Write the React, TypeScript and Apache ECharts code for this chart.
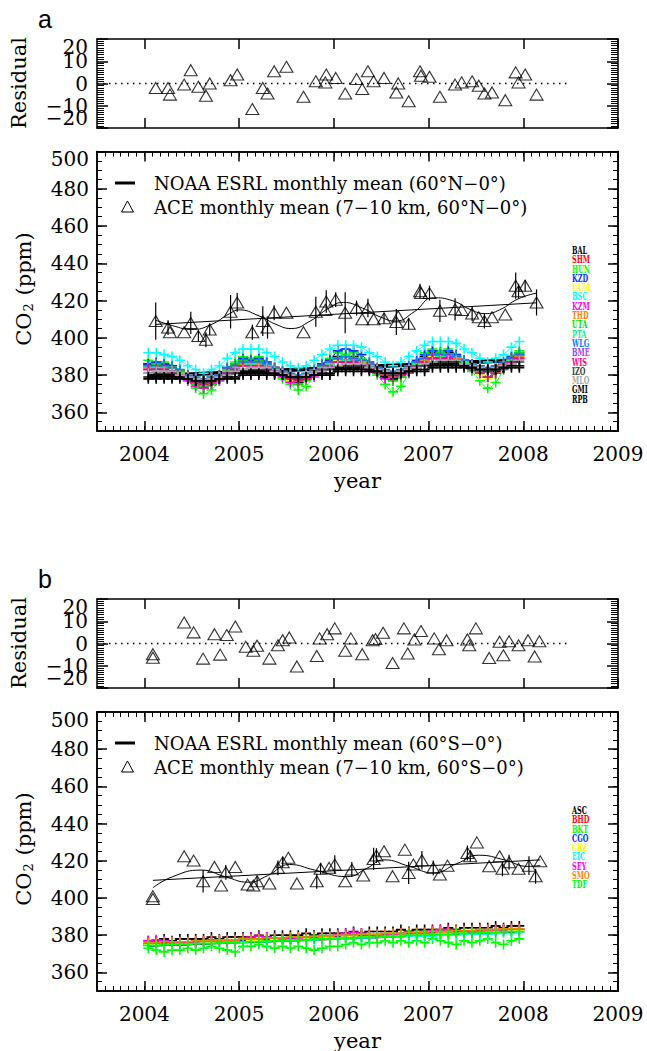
import React, { useEffect, useRef } from 'react';
import * as echarts from 'echarts';

// ---------------- axes / ticks ----------------
const DATA_YEARS = [2004, 2005, 2006, 2007];
const X_MIN = 2003.5;
const X_MAX = 2009;
const X_TICKS = [2004, 2005, 2006, 2007, 2008, 2009];
const Y_MIN = 350;
const Y_MAX = 500;
const Y_TICKS = [360, 380, 400, 420, 440, 460, 480, 500];
const RES_MIN = -20;
const RES_MAX = 20;
const RES_TICKS = [20, 10, 0, -10, -20];

// ---------------- panel a: NOAA stations (monthly, 2004-2007) ----------------
const BAL = [386,385,386,384,381,378,376,373,375,379,383,385, 388,387,388,386,384,381,377,376,378,380,385,388, 390,389,390,388,385,383,379,378,380,383,386,390, 392,391,392,390,388,384,382,379,382,384,389,391];
const SHM = [384,385,385,384,382,380,378,377,378,380,383,385, 387,387,386,386,383,381,380,379,380,382,385,387, 389,389,389,388,386,383,382,381,382,384,387,389, 391,391,391,390,387,386,384,383,384,386,389,391];
const HUN = [388,386,387,385,381,377,373,370,372,377,383,387, 390,389,390,387,383,378,375,372,374,380,386,389, 392,391,392,389,385,380,375,371,374,381,387,392, 394,393,394,391,387,382,377,373,376,383,390,393];
const KZD = [386,387,386,385,382,380,377,376,377,380,384,386, 389,388,389,387,384,382,379,378,380,382,386,388, 393,394,393,391,387,384,381,380,382,384,388,391, 393,392,393,391,388,386,383,382,384,386,390,392];
const UUM = [384,385,384,383,381,378,377,375,377,379,382,385, 386,387,386,385,383,380,377,375,377,380,384,386, 388,389,389,387,385,382,380,379,381,383,386,389, 390,391,391,389,387,384,380,378,381,385,388,390];
const BSC = [392,392,391,390,388,385,383,381,383,385,389,392, 394,394,394,392,390,387,385,384,385,388,391,394, 396,396,396,395,392,390,387,385,387,390,393,396, 398,398,398,397,394,392,389,387,389,391,395,398];
const KZM = [383,384,383,382,380,377,374,373,375,377,381,383, 385,386,385,384,381,379,376,375,378,379,383,386, 387,388,388,386,383,381,378,377,379,381,385,388, 389,390,390,388,386,383,381,379,381,383,387,389];
const THD = [384,385,384,384,382,380,378,377,379,380,383,385, 386,387,386,385,384,382,380,379,380,382,385,387, 389,388,389,387,386,384,382,381,382,384,387,388, 391,390,391,389,388,386,384,383,384,386,389,390];
const UTA = [385,386,385,384,382,378,375,374,375,378,382,386, 388,387,388,386,383,380,378,375,377,381,385,387, 389,390,389,388,385,382,380,377,379,382,387,389, 391,392,391,390,387,384,382,379,381,384,388,392];
const PTA = [385,384,385,384,381,379,377,376,377,379,382,384, 387,386,387,386,383,381,379,378,379,381,384,386, 389,388,389,388,385,383,381,380,381,383,386,389, 391,390,391,390,387,385,383,382,383,385,388,391];
const WLG = [385,385,385,384,383,380,379,378,379,380,384,385, 387,387,387,386,384,382,381,380,381,383,385,387, 389,390,389,388,386,384,383,382,383,385,387,389, 391,391,391,390,388,386,385,384,385,387,389,391];
const BME = [383,383,383,382,380,379,377,376,377,379,381,383, 385,385,385,384,382,381,379,378,379,381,383,385, 387,387,387,386,384,383,381,381,381,383,385,387, 389,389,389,388,386,385,383,383,383,385,387,389];
const WIS = [383,383,383,382,380,378,376,375,376,378,381,383, 385,385,385,384,382,380,378,377,378,380,383,385, 387,387,387,386,384,382,380,379,380,382,385,387, 389,389,389,388,386,384,381,379,381,384,387,389];
const IZO = [381,381,381,381,379,378,377,376,377,378,380,381, 383,383,383,383,381,380,379,378,379,380,382,383, 385,385,385,385,383,382,381,380,381,382,384,385, 387,387,387,387,385,384,383,382,383,384,386,387];
const MLO = [381,382,382,382,380,379,378,377,378,379,380,382, 383,384,384,384,382,381,380,379,380,381,382,384, 385,386,386,386,384,383,382,381,382,383,384,386, 387,388,388,388,386,385,384,383,384,385,386,388];
const GMI = [379,379,379,379,379,378,377,377,377,378,379,379, 381,381,381,381,381,380,379,379,379,380,381,381, 383,383,383,383,383,382,381,381,381,382,383,383, 385,385,385,385,385,384,383,383,383,384,385,385];
const RPB = [378,378,378,378,378,378,377,377,377,378,378,378, 380,380,380,380,380,380,379,379,379,380,380,380, 382,382,382,382,382,382,381,381,381,382,382,382, 384,384,384,384,384,384,383,383,383,384,384,384];
const STATIONS_A = ['BAL','SHM','HUN','KZD','UUM','BSC','KZM','THD','UTA','PTA','WLG','BME','WIS','IZO','MLO','GMI','RPB'];
const VALUES_A = [BAL, SHM, HUN, KZD, UUM, BSC, KZM, THD, UTA, PTA, WLG, BME, WIS, IZO, MLO, GMI, RPB];
const COLORS_A = ['#000000','#ff0000','#00ff00','#0030ff','#ffff00','#00ffff','#ff00ff','#ff8000','#00e000','#00ff80','#0080ff','#a040ff','#ff0080','#404040','#a8a8a8','#000000','#000000'];

const NOAA_A_MEAN = [383.5,384,384,383,381,378.5,376.5,376,376.5,378.5,381.5,384.5, 386,386.5,386,384.5,382,379.5,378,378,379,381,384,386.5, 388,388,387,385.5,383,381,380,380,381,383.5,386.5,389, 390.5,390.5,389.5,387.5,385,383,382.5,382.5,383.5,385,387,388.5];
const NOAA_A_TREND_X = [2004.04, 2007.96];
const NOAA_A_TREND_Y = [379.5, 388];

// ---------------- panel a: ACE ----------------
const ACE_A_YEAR = [2004.12,2004.25,2004.27,2004.42,2004.49,2004.57,2004.65,2004.69,2004.91,2004.98,2005.14,2005.25,2005.30,2005.37,2005.50,2005.68,2005.81,2005.91,2005.92,2006.02,2006.12,2006.24,2006.30,2006.36,2006.42,2006.53,2006.66,2006.68,2006.79,2006.91,2006.92,2007.01,2007.12,2007.28,2007.35,2007.46,2007.53,2007.59,2007.67,2007.81,2007.92,2007.95,2008.02,2008.14];
const ACE_A_VAL = [409,405.5,403,403,408,401,399,404.5,414,419,403,409,405.5,413.5,413.5,403,414,415,419.5,420.5,413.5,416,410,416,410,410.5,408.5,411.5,407.5,425,424,424,414.5,415.3,415,413,411,409,411,412.5,428,425,428,419];
const ACE_A_ERR = [10,4,0,0,6,3,4,3,9,5,4,8,6,4,0,0,8,0,6,4,11,4,0,5,0,3,7,0,3,4,0,4,6,6,0,4,0,4,0,0,7,4,3,7];
const ACE_A_FIT_X = [2004.12,2004.3,2004.5,2004.7,2004.9,2005.0,2005.2,2005.4,2005.55,2005.75,2005.95,2006.1,2006.3,2006.5,2006.65,2006.85,2007.05,2007.25,2007.45,2007.6,2007.75,2007.95,2008.14];
const ACE_A_FIT_Y = [409.5,406.5,404.5,407,413,415,412,407,405,409,416,419,416,411,409,414,421.5,420,415,413,415,421,424];
const ACE_A_TREND_X = [2004.12, 2008.14];
const ACE_A_TREND_Y = [407.2, 418.8];
const RES_A_YEAR = [2004.12,2004.25,2004.27,2004.42,2004.49,2004.57,2004.65,2004.69,2004.91,2004.98,2005.14,2005.25,2005.30,2005.37,2005.50,2005.68,2005.81,2005.91,2005.92,2006.02,2006.12,2006.24,2006.30,2006.36,2006.42,2006.53,2006.66,2006.68,2006.79,2006.91,2006.92,2007.01,2007.12,2007.28,2007.35,2007.46,2007.53,2007.59,2007.67,2007.81,2007.92,2007.95,2008.02,2008.14];
const RES_A_VAL = [-2,-2,-5,-0.5,6,-1.5,-5.5,0,1.5,4,-11.5,-2,-4.5,5.5,7.5,-6,1,0.5,4,2.5,-4.5,2,-2.5,5.5,1,2.5,-4,0,-8,5.5,3.5,3,-6,-0.5,0.5,1,-1,-4.5,-4,-7.5,5,0.5,4,-5];

// ---------------- panel b: NOAA stations ----------------
const ASC = [377,377,378,377,378,378,378,378,379,378,379,379, 379,379,380,379,380,380,380,380,381,380,381,381, 381,381,382,381,382,382,382,382,383,382,383,383, 383,383,384,383,384,384,384,384,385,384,385,385];
const BHD = [375.5,376,376,376,376,375.5,376.5,376.5,376.5,377,377,377, 377.5,377.5,377.5,378,378,378,378.5,378.5,378.5,379,379,379, 379.5,379.5,379.5,380,380,380,380.5,380.5,380.5,381,381,381, 381.5,381.5,381.5,382,382,382,382.5,382.5,382.5,383,383,383];
const BKT = [373,372,371,372,372,373,372,373,374,373,372,371, 374,374,375,374,373,374,373,374,373,372,373,374, 374,375,376,375,376,376,377,376,377,376,377,376, 378,377,376,375,377,376,377,378,376,375,377,378];
const CGO = [375,375,375,375.5,375.5,376,376,376,376.5,376.5,376.5,377, 377,377,377,377.5,377.5,378,378,378,378.5,378.5,378.5,379, 379,379,379,379.5,379.5,380,380,380,380.5,380.5,380.5,381, 381,381,381,381.5,381.5,382,382,382,382.5,382.5,382.5,383];
const CRZ = [375,375,375,375,375.5,375.5,375.5,376,376,376,376.5,376.5, 376.5,377,377,377,377.5,377.5,377.5,378,378,378,378.5,378.5, 378.5,379,379,379,379.5,379.5,379.5,380,380,380,380.5,380.5, 380.5,381,381,381,381.5,381.5,381.5,382,382,382,382.5,382.5];
const EIC = [374.5,374.5,375,375,375,375,375.5,375.5,375.5,376,376,376, 376,376.5,376.5,376.5,377,377,377,377.5,377.5,377.5,378,378, 378,378,378.5,378.5,378.5,379,379,379,379,379.5,379.5,379.5, 379.5,380,380,380,380.5,380.5,380.5,380.5,381,381,381,381.5];
const SEY = [377,377.5,377,376.5,376,376,376.5,377,377.5,377.5,377,377, 378.5,379,379.5,379,378.5,378,378,378.5,379,379,379.5,379.5, 380.5,381,381.5,381,380,379.5,380,380.5,381,381.5,381,381, 382.5,383,383,382.5,382,381.5,382,382.5,383,383,383.5,383.5];
const SMO = [376,376,376.5,376.5,376.5,376.5,377,377,377,377.5,377.5,377.5, 378,378,378,378.5,378.5,378.5,379,379,379,379.5,379.5,379.5, 380,380,380,380.5,380.5,380.5,381,381,381,381.5,381.5,381.5, 382,382,382,382.5,382.5,382.5,383,383,383,383.5,383.5,383.5];
const TDF = [374.5,374.5,375,375,375,375,375.5,375.5,375.5,376,376,376, 376.5,376.5,376.5,377,377,377,377.5,377.5,377.5,378,378,378, 378.5,378.5,378.5,379,379,379,379.5,379.5,379.5,380,380,380, 380.5,380.5,380.5,381,381,381,381.5,381.5,381.5,382,382,382];
const STATIONS_B = ['ASC','BHD','BKT','CGO','CRZ','EIC','SEY','SMO','TDF'];
const VALUES_B = [ASC, BHD, BKT, CGO, CRZ, EIC, SEY, SMO, TDF];
const COLORS_B = ['#000000','#ff0000','#00ff00','#0030ff','#ffff00','#00ffff','#ff00ff','#ff8000','#00ff00'];

const NOAA_B_MEAN = [375,375.2,375.4,375.3,375.3,375.6,375.9,376.2,376.4,376.5,376.7,376.9, 377,377.2,377.3,377.3,377.4,377.6,377.9,378.1,378.3,378.5,378.7,378.9, 379,379.2,379.3,379.3,379.4,379.6,379.9,380.1,380.3,380.5,380.7,380.9, 381,381.2,381.3,381.3,381.4,381.6,381.9,382.1,382.3,382.5,382.7,382.9];
const NOAA_B_TREND_X = [2004.04, 2007.96];
const NOAA_B_TREND_Y = [374.8, 382.3];

// ---------------- panel b: ACE ----------------
const ACE_B_YEAR = [2004.09,2004.09,2004.42,2004.52,2004.62,2004.74,2004.81,2004.86,2004.96,2005.09,2005.15,2005.19,2005.32,2005.41,2005.46,2005.52,2005.61,2005.82,2005.86,2005.95,2006.01,2006.12,2006.19,2006.31,2006.42,2006.45,2006.53,2006.62,2006.75,2006.79,2006.84,2006.93,2007.05,2007.12,2007.20,2007.41,2007.44,2007.51,2007.64,2007.75,2007.78,2007.85,2007.95,2008.06,2008.13,2008.18];
const ACE_B_VAL = [401,399.5,422.4,420.1,409,416.7,406.7,413.8,416.7,407.2,406.7,409,407.8,416.2,419.2,421.6,407.8,409,415.7,416.2,418,409,415.3,412.1,421,422.8,425.1,411.7,426,413.5,418,420.3,416.2,412.6,417.4,424.2,422.4,429.9,417.1,422.4,415.7,419.2,415.7,417.4,411.7,419.7];
const ACE_B_ERR = [0,0,0,0,6,0,0,4,0,0,0,3,0,4,3,0,0,4,3,0,5,0,4,0,6,4,0,0,0,6,0,5,4,0,0,4,3,0,0,0,4,4,0,5,4,0];
const ACE_B_FIT_X = [2004.09,2004.3,2004.6,2004.85,2005.1,2005.3,2005.53,2005.8,2006.14,2006.35,2006.53,2006.8,2007.05,2007.3,2007.53,2007.8,2008.05,2008.18];
const ACE_B_FIT_Y = [405.5,411.5,415,411.5,408.5,412,418,415,411.5,416,420.5,417,413.5,418.5,423,420.5,417,417.5];
const ACE_B_TREND_X = [2004.09, 2008.18];
const ACE_B_TREND_Y = [409.5, 420.5];
const RES_B_YEAR = [2004.09,2004.09,2004.42,2004.52,2004.62,2004.74,2004.80,2004.87,2004.96,2005.07,2005.15,2005.19,2005.32,2005.41,2005.46,2005.53,2005.61,2005.82,2005.85,2005.93,2006.01,2006.12,2006.18,2006.30,2006.41,2006.44,2006.52,2006.62,2006.74,2006.78,2006.85,2006.92,2007.06,2007.11,2007.19,2007.41,2007.43,2007.50,2007.64,2007.75,2007.79,2007.85,2007.95,2008.05,2008.12,2008.17];
const RES_B_VAL = [-4.8,-6.4,9.4,5,-6.8,4.2,-5,3.8,7.6,-1.5,-3.3,-1,-6.8,-0.8,1.5,2.7,-10.3,-5.6,2.3,4.2,6.8,-3.3,2.3,-4.8,1.5,2,4.8,-8.8,6.8,-4.5,1.8,5.6,2.3,-2.6,1.5,1.8,-0.8,6.8,-6.5,0.8,-5.3,1,-0.8,1.5,-5.8,1];

const ZERO_LINE_X = [2003.5, 2008.5];

// ---------------- helpers ----------------
const MONTH_X = DATA_YEARS.flatMap((y) => Array.from({ length: 12 }, (_, m) => y + (m + 0.5) / 12));
const X_MINOR = Array.from({ length: 67 }, (_, k) => X_MIN + k / 12);
const Y_MINOR = Array.from({ length: 31 }, (_, k) => Y_MIN + 5 * k);

const SERIF = "'DejaVu Serif', 'Liberation Serif', serif";
const AX = { color: '#000', width: 1.5 };
const PLUS = 'path://M0,4.2h10v1.6h-10zM4.2,0h1.6v10h-1.6z';
const GRIDS = [
  { left: 97, top: 39, width: 521, height: 89 },
  { left: 97, top: 151.5, width: 521, height: 279.5 },
  { left: 97, top: 599, width: 521, height: 89 },
  { left: 97, top: 712, width: 521, height: 279 },
];

function xAxesFor(gridIndex: number, main: boolean) {
  const base: any = {
    type: 'value', gridIndex, min: X_MIN, max: X_MAX,
    splitLine: { show: false },
    axisLine: { show: true, onZero: false, lineStyle: AX },
  };
  const lbl = main
    ? { show: true, customValues: X_TICKS, margin: 13, color: '#000', fontFamily: SERIF, fontSize: 20, showMinLabel: true, showMaxLabel: true, hideOverlap: false, formatter: (v: number) => String(v) }
    : { show: false };
  const out: any[] = [
    { ...base, position: 'bottom', axisTick: { show: true, inside: true, length: 10, customValues: X_TICKS, lineStyle: AX }, axisLabel: lbl },
    { ...base, position: 'top', axisTick: { show: true, inside: true, length: 10, customValues: X_TICKS, lineStyle: AX }, axisLabel: { show: false } },
  ];
  if (main) {
    out.push({ ...base, position: 'bottom', axisTick: { show: true, inside: true, length: 5, customValues: X_MINOR, lineStyle: { color: '#000', width: 1 } }, axisLabel: { show: false } });
    out.push({ ...base, position: 'top', axisTick: { show: true, inside: true, length: 5, customValues: X_MINOR, lineStyle: { color: '#000', width: 1 } }, axisLabel: { show: false } });
  }
  return out;
}

function yAxesFor(gridIndex: number, main: boolean) {
  if (!main) {
    const base: any = {
      type: 'value', gridIndex, min: RES_MIN, max: RES_MAX, interval: 10,
      splitLine: { show: false },
      axisLine: { show: true, onZero: false, lineStyle: AX },
      axisTick: { show: true, inside: true, length: 11, lineStyle: AX },
      minorTick: { show: true, splitNumber: 10, length: 7, lineStyle: { color: '#000', width: 1 } },
      axisLabel: { show: false },
    };
    return [
      { ...base, position: 'left' },
      { ...base, position: 'right' },
    ];
  }
  const base: any = {
    type: 'value', gridIndex, min: Y_MIN, max: Y_MAX,
    splitLine: { show: false },
    axisLine: { show: true, onZero: false, lineStyle: AX },
  };
  return [
    {
      ...base, position: 'left',
      axisTick: { show: true, inside: true, length: 10, customValues: Y_TICKS, lineStyle: AX },
      axisLabel: {
        show: true, customValues: Y_TICKS, margin: 8, color: '#000', fontFamily: SERIF, fontSize: 20, lineHeight: 15,
        showMinLabel: true, showMaxLabel: true, hideOverlap: false,
        formatter: (v: number) => (v === Y_MAX ? '\n' + v : String(v)),
      },
    },
    { ...base, position: 'left', axisTick: { show: true, inside: true, length: 5, customValues: Y_MINOR, lineStyle: { color: '#000', width: 1 } }, axisLabel: { show: false } },
    { ...base, position: 'right', axisTick: { show: true, inside: true, length: 10, customValues: Y_TICKS, lineStyle: AX }, axisLabel: { show: false } },
    { ...base, position: 'right', axisTick: { show: true, inside: true, length: 5, customValues: Y_MINOR, lineStyle: { color: '#000', width: 1 } }, axisLabel: { show: false } },
  ];
}

const TRI_STYLE = { color: 'rgba(255,255,255,0)', borderColor: '#000', borderWidth: 1.1 };

function residualSeries(ai: number, years: number[], vals: number[]) {
  return [
    {
      type: 'line', xAxisIndex: ai, yAxisIndex: ai, silent: true, symbol: 'none',
      data: ZERO_LINE_X.map((x) => [x, 0]),
      lineStyle: { color: '#000', width: 1.5, type: [1.5, 4.5] },
    },
    {
      type: 'scatter', xAxisIndex: ai, yAxisIndex: ai, silent: true,
      symbol: 'triangle', symbolSize: [13, 11],
      data: years.map((x, i) => [x, vals[i]]),
      itemStyle: TRI_STYLE,
    },
  ];
}

function mainSeries(ai: number, o: any) {
  const s: any[] = [];
  o.stations.forEach((vals: number[], k: number) => {
    s.push({
      type: 'line', xAxisIndex: ai, yAxisIndex: ai, silent: true, smooth: 0.35,
      symbol: PLUS, symbolSize: 10, showSymbol: true,
      data: MONTH_X.map((x, i) => [x, vals[i]]),
      lineStyle: { width: 1, color: o.colors[k] },
      itemStyle: { color: o.colors[k] },
    });
  });
  s.push({
    type: 'line', xAxisIndex: ai, yAxisIndex: ai, silent: true, smooth: 0.4, symbol: 'none',
    data: MONTH_X.map((x, i) => [x, o.mean[i]]),
    lineStyle: { width: 4, color: '#000' },
  });
  s.push({
    type: 'line', xAxisIndex: ai, yAxisIndex: ai, silent: true, symbol: 'none',
    data: o.trendX.map((x: number, i: number) => [x, o.trendY[i]]),
    lineStyle: { width: 4, color: '#000' },
  });
  s.push({
    type: 'line', xAxisIndex: ai, yAxisIndex: ai, silent: true, smooth: 0.5, symbol: 'none',
    data: o.fitX.map((x: number, i: number) => [x, o.fitY[i]]),
    lineStyle: { width: 1, color: '#000' },
  });
  s.push({
    type: 'line', xAxisIndex: ai, yAxisIndex: ai, silent: true, symbol: 'none',
    data: o.aceTrendX.map((x: number, i: number) => [x, o.aceTrendY[i]]),
    lineStyle: { width: 1, color: '#000' },
  });
  s.push({
    type: 'custom', xAxisIndex: ai, yAxisIndex: ai, silent: true,
    encode: { x: 0, y: 1 },
    data: o.aceYear.map((x: number, i: number) => [x, o.aceVal[i], o.aceErr[i]]),
    renderItem: (_p: any, api: any) => {
      const x = api.value(0), y = api.value(1), e = api.value(2);
      if (!e) return null;
      const p1 = api.coord([x, y - e]);
      const p2 = api.coord([x, y + e]);
      return { type: 'line', shape: { x1: p1[0], y1: p1[1], x2: p2[0], y2: p2[1] }, style: { stroke: '#000', lineWidth: 1.2 } };
    },
  });
  s.push({
    type: 'scatter', xAxisIndex: ai, yAxisIndex: ai, silent: true,
    symbol: 'triangle', symbolSize: [13, 11],
    data: o.aceYear.map((x: number, i: number) => [x, o.aceVal[i]]),
    itemStyle: TRI_STYLE,
  });
  return s;
}

function legendGraphics(dy: number, hemi: string, stations: string[], colors: string[]) {
  const g: any[] = [];
  g.push({ type: 'line', shape: { x1: 115, y1: 183 + dy, x2: 135, y2: 183 + dy }, style: { stroke: '#000', lineWidth: 3 } });
  g.push({ type: 'text', x: 154, y: 183 + dy, style: { text: `NOAA ESRL monthly mean (60\u00b0${hemi}\u22120\u00b0)`, fill: '#000', fontFamily: SERIF, fontSize: 18, verticalAlign: 'middle', align: 'left' } });
  g.push({ type: 'polygon', shape: { points: [[121.5, 212 + dy], [133.5, 212 + dy], [127.5, 201 + dy]] }, style: { fill: 'none', stroke: '#000', lineWidth: 1 } });
  g.push({ type: 'text', x: 154, y: 207 + dy, style: { text: `ACE monthly mean (7\u221210 km, 60\u00b0${hemi}\u22120\u00b0)`, fill: '#000', fontFamily: SERIF, fontSize: 18, verticalAlign: 'middle', align: 'left' } });
  stations.forEach((name, k) => {
    g.push({
      type: 'text', x: 572, y: 250.3 + dy + k * 9.3, scaleX: 0.62,
      style: { text: name, fill: colors[k], fontFamily: SERIF, fontWeight: 'bold', fontSize: 10.5, verticalAlign: 'middle', align: 'left' },
    });
  });
  return g;
}

function titleGraphics(dy: number, letter: string) {
  return [
    { type: 'text', x: 38, y: 19 + dy, style: { text: letter, fill: '#000', fontFamily: "'Liberation Sans', Arial, sans-serif", fontSize: 25, verticalAlign: 'middle', align: 'left' } },
    { type: 'text', x: 19, y: 83 + dy, rotation: Math.PI / 2, style: { text: 'Residual', fill: '#000', fontFamily: SERIF, fontSize: 21, verticalAlign: 'middle', align: 'center' } },
    {
      type: 'text', x: 24, y: 289 + dy, rotation: Math.PI / 2,
      style: {
        text: 'CO{s|2} (ppm)', fill: '#000', fontFamily: SERIF, fontSize: 21, verticalAlign: 'middle', align: 'center',
        rich: { s: { fontFamily: SERIF, fontSize: 13, fill: '#000', verticalAlign: 'bottom', padding: [9, 1, 0, 1] } },
      },
    },
    { type: 'text', x: 357.5, y: 481 + dy, style: { text: 'year', fill: '#000', fontFamily: SERIF, fontSize: 21, verticalAlign: 'middle', align: 'center' } },
  ];
}

// residual tick labels, placed through the residual y-axis scale (IDL nudges the end labels inwards)
function residualLabels(chart: any, yAxisIndex: number) {
  return RES_TICKS.map((v) => {
    const py = chart.convertToPixel({ yAxisIndex }, v) as number;
    const nudge = v === RES_MAX ? 8 : v === RES_MIN ? -10 : 0;
    return {
      type: 'text', x: 88, y: py + nudge,
      style: { text: v < 0 ? '\u2212' + Math.abs(v) : String(v), fill: '#000', fontFamily: SERIF, fontSize: 20, verticalAlign: 'middle', align: 'right' },
    };
  });
}

export default function App() {
  const ref = useRef<HTMLDivElement>(null);
  useEffect(() => {
    if (!ref.current) return;
    const chart = echarts.init(ref.current, undefined, { renderer: 'svg' });
    const xAxis = [...xAxesFor(0, false), ...xAxesFor(1, true), ...xAxesFor(2, false), ...xAxesFor(3, true)];
    const yAxis = [...yAxesFor(0, false), ...yAxesFor(1, true), ...yAxesFor(2, false), ...yAxesFor(3, true)];
    // primary axis indices: grid0 -> 0, grid1 -> 2, grid2 -> 6, grid3 -> 8
    const series = [
      ...residualSeries(0, RES_A_YEAR, RES_A_VAL),
      ...mainSeries(2, {
        stations: VALUES_A, colors: COLORS_A, mean: NOAA_A_MEAN, trendX: NOAA_A_TREND_X, trendY: NOAA_A_TREND_Y,
        fitX: ACE_A_FIT_X, fitY: ACE_A_FIT_Y, aceTrendX: ACE_A_TREND_X, aceTrendY: ACE_A_TREND_Y,
        aceYear: ACE_A_YEAR, aceVal: ACE_A_VAL, aceErr: ACE_A_ERR,
      }),
      ...residualSeries(6, RES_B_YEAR, RES_B_VAL),
      ...mainSeries(8, {
        stations: VALUES_B, colors: COLORS_B, mean: NOAA_B_MEAN, trendX: NOAA_B_TREND_X, trendY: NOAA_B_TREND_Y,
        fitX: ACE_B_FIT_X, fitY: ACE_B_FIT_Y, aceTrendX: ACE_B_TREND_X, aceTrendY: ACE_B_TREND_Y,
        aceYear: ACE_B_YEAR, aceVal: ACE_B_VAL, aceErr: ACE_B_ERR,
      }),
    ];
    chart.setOption({
      animation: false,
      backgroundColor: '#ffffff',
      grid: GRIDS,
      xAxis,
      yAxis,
      series,
    });
    chart.setOption({
      graphic: {
        elements: [
          ...titleGraphics(0, 'a'),
          ...titleGraphics(560, 'b'),
          ...legendGraphics(0, 'N', STATIONS_A, COLORS_A),
          ...legendGraphics(560, 'S', STATIONS_B, COLORS_B),
          ...residualLabels(chart, 0),
          ...residualLabels(chart, 6),
        ],
      },
    });
    return () => chart.dispose();
  }, []);
  return <div ref={ref} style={{ position: 'absolute', left: 0, top: 0, width: 647, height: 1051, background: '#fff' }} />;
}
